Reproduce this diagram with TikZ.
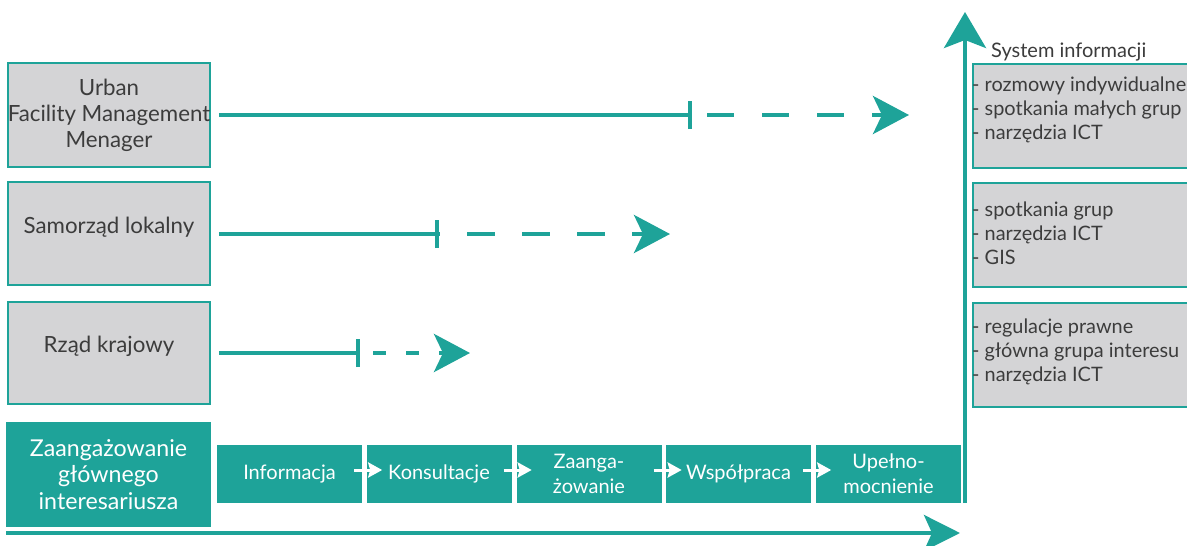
\documentclass[tikz,border=0pt]{standalone}
\usepackage{fontspec}
\setmainfont{Lato}
\usetikzlibrary{arrows.meta}
\definecolor{teal1}{RGB}{30,163,153}
\definecolor{boxgray}{RGB}{212,212,214}
\definecolor{txt}{RGB}{60,60,60}
\begin{document}
\begin{tikzpicture}[x=1pt,y=-1pt,
  actor/.style={draw=teal1, line width=1.5pt, fill=boxgray, text=txt,
    font=\fontsize{22.3}{26}\selectfont, align=center, inner sep=0pt,
    minimum width=202pt},
  mainbox/.style={fill=teal1, text=white, font=\fontsize{23.2}{26.5}\selectfont,
    align=center, inner sep=0pt, minimum width=205pt, minimum height=105pt},
  stage/.style={fill=teal1, text=white, font=\fontsize{20}{25}\selectfont,
    align=center, inner sep=0pt, minimum width=145pt, minimum height=58pt},
  infobox/.style={draw=teal1, line width=1.5pt, fill=boxgray, inner sep=0pt,
    minimum width=228pt},
  infotext/.style={text=txt, font=\fontsize{19.9}{24}\selectfont, align=left,
    inner sep=0pt, anchor=west},
  solidline/.style={teal1, line width=4.5pt},
  tickline/.style={teal1, line width=4pt},
  dashline/.style={teal1, line width=4.5pt,
    -{Stealth[length=36pt, width=38pt, inset=9pt]}},
  stagearrow/.style={white, line width=3pt,
    -{Stealth[length=14pt, width=15pt, inset=2pt]}},
  axis/.style={teal1, line width=4pt,
    -{Stealth[length=36pt, width=36pt, inset=8pt]}}
]
\useasboundingbox (0,0) rectangle (1187,546);

% actor boxes
\node[actor, minimum height=104pt] (urb) at (109,115) {Urban\\Facility Management\\Menager};
\node[actor, minimum height=103pt, text depth=17pt] (sam) at (109,233.5) {Samorząd lokalny};
\node[actor, minimum height=102pt, text depth=17pt] (rzad) at (109,353) {Rząd krajowy};

% main box and stages
\node[mainbox] (zg) at (108.5,474.5) {Zaangażowanie\\głównego\\interesariusza};
\node[stage] (s1) at (289.5,474) {Informacja};
\node[stage] (s2) at (439,474) {Konsultacje};
\node[stage] (s3) at (589,474) {Zaanga-\\żowanie};
\node[stage] (s4) at (738.5,474) {Współpraca};
\node[stage] (s5) at (888.5,474) {Upełno-\\mocnienie};

\foreach \s in {s1,s2,s3,s4}
  \draw[stagearrow] ([xshift=-8pt,yshift=4pt]\s.east) -- ([xshift=20pt,yshift=4pt]\s.east);

% info boxes
\node[infobox, minimum height=104pt, anchor=north west] (i1) at (972,63) {};
\node[infobox, minimum height=104pt, anchor=north west] (i2) at (972,182) {};
\node[infobox, minimum height=104pt, anchor=north west] (i3) at (972,302) {};
\node[infotext] (i1t) at (972,110) {- rozmowy indywidualne\\- spotkania małych grup\\- narzędzia ICT};
\node[infotext] (i2t) at (972,233) {- spotkania grup\\- narzędzia ICT\\- GIS};
\node[infotext] (i3t) at (972,352) {- regulacje prawne\\- główna grupa interesu\\- narzędzia ICT};

% axes
\coordinate (v0) at (965,503);
\coordinate (v1) at (965,12);
\draw[axis, -{Stealth[length=36pt, width=42pt, inset=8pt]}] (v0) -- (v1);
\node[anchor=base west, text=txt, font=\fontsize{20}{22}\selectfont, inner sep=0pt] (sys) at (991,57) {System informacji};
\coordinate (h0) at (6,533);
\coordinate (h1) at (960,533);
\draw[axis] (h0) -- (h1);

% actor lines
\coordinate (t1) at (690,115);
\coordinate (e1) at (909,115);
\draw[solidline] ([xshift=8pt]urb.east) -- (t1);
\draw[tickline] ([yshift=-14pt]t1) -- ([yshift=14pt]t1);
\draw[dashline, dash pattern=on 27pt off 28pt, dash phase=38pt] (t1) -- (e1);

\coordinate (t2) at (437,234);
\coordinate (e2) at (670,234);
\draw[solidline] ([xshift=8pt]sam.east |- t2) -- (t2);
\draw[tickline] ([yshift=-14pt]t2) -- ([yshift=14pt]t2);
\draw[dashline, dash pattern=on 28pt off 27pt, dash phase=25pt] (t2) -- (e2);

\coordinate (t3) at (358,353);
\coordinate (e3) at (470,353);
\draw[solidline] ([xshift=8pt]rzad.east) -- (t3);
\draw[tickline] ([yshift=-14pt]t3) -- ([yshift=14pt]t3);
\draw[dashline, dash pattern=on 13pt off 20pt, dash phase=18pt] (t3) -- (e3);
\end{tikzpicture}
\end{document}
